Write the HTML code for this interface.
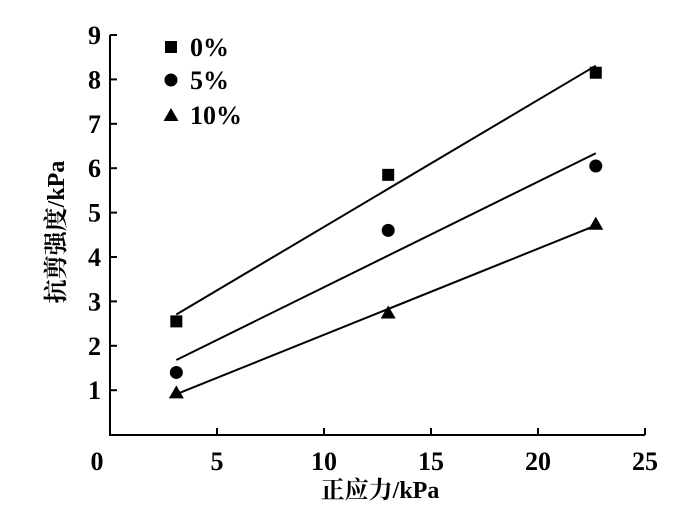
<!DOCTYPE html>
<html><head><meta charset="utf-8"><style>
body{margin:0;background:#fff;}
svg{display:block;font-family:"Liberation Serif","Noto Serif CJK SC",serif;}
</style></head><body>
<svg id="c" width="687" height="516"></svg>
<script>
const xTicks=[0,5,10,15,20,25];
const yTicks=[1,2,3,4,5,6,7,8,9];
const seriesNames=["0%","5%","10%"];
const xVals=[3.1,13,22.7];
const s0=[2.55,5.85,8.15];
const s1=[1.4,4.6,6.05];
const s2=[0.95,2.75,4.75];
const series=[s0,s1,s2];
const NS="http://www.w3.org/2000/svg";
const svg=document.getElementById('c');
const X=v=>110+v*21.4;
const Y=v=>434.6-v*44.4;
function mk(t,a,p){const e=document.createElementNS(NS,t);for(const k in a)e.setAttribute(k,a[k]);(p||svg).appendChild(e);return e;}
let e;
e=mk('path',{d:`M${X(0)},${Y(9)}V435H${X(25)}`,fill:'none',stroke:'#000','stroke-width':2});


xTicks.forEach(t=>{
 if(t>0){e=mk('line',{x1:X(t),x2:X(t),y1:435,y2:428,stroke:'#000','stroke-width':2});
 
 }
 e=mk('text',{x:X(t)+(t==0?-13:0),y:470,'text-anchor':'middle','font-size':26,'font-weight':'bold'});
 e.textContent=t;
 
 
});
yTicks.forEach(t=>{
 e=mk('line',{x1:110,x2:117,y1:Y(t),y2:Y(t),stroke:'#000','stroke-width':2});
 
 
 e=mk('text',{x:101,y:Y(t)+9,'text-anchor':'end','font-size':26,'font-weight':'bold'});
 e.textContent=t;
 
 
});
e=mk('text',{x:380,y:498,'text-anchor':'middle','font-size':24,'font-weight':'bold'});
e.textContent='正应力/kPa';


e=mk('text',{x:0,y:0,'text-anchor':'middle','font-size':24,'font-weight':'bold',transform:'translate(64,232) rotate(-90)'});
e.textContent='抗剪强度/kPa';


function marker(i,cx,cy){
 if(i==0)return mk('rect',{x:cx-6,y:cy-6,width:12,height:12,fill:'#000'});
 if(i==1)return mk('circle',{cx:cx,cy:cy,r:6.5,fill:'#000'});
 return mk('polygon',{points:`${cx},${cy-7} ${cx+7.5},${cy+6} ${cx-7.5},${cy+6}`,fill:'#000'});
}
series.forEach((ys,i)=>{
 const n=xVals.length,mx=xVals.reduce((a,b)=>a+b)/n,my=ys.reduce((a,b)=>a+b)/n;
 let sxy=0,sxx=0;xVals.forEach((x,j)=>{sxy+=(x-mx)*(ys[j]-my);sxx+=(x-mx)*(x-mx);});
 const b=sxy/sxx,a=my-b*mx;
 const x0=xVals[0],x1=xVals[n-1];
 e=mk('line',{x1:X(x0),y1:Y(a+b*x0),x2:X(x1),y2:Y(a+b*x1),stroke:'#000','stroke-width':2});
 
 
 ys.forEach((v,j)=>{
  e=marker(i,X(xVals[j]),Y(v));
  
  
 });
 const ly=[47,80,115][i];
 e=marker(i,171,ly);
 
 
 e=mk('text',{x:190,y:ly+9,'font-size':26,'font-weight':'bold'});
 e.textContent=seriesNames[i];
 
 
});
</script>
</body></html>
